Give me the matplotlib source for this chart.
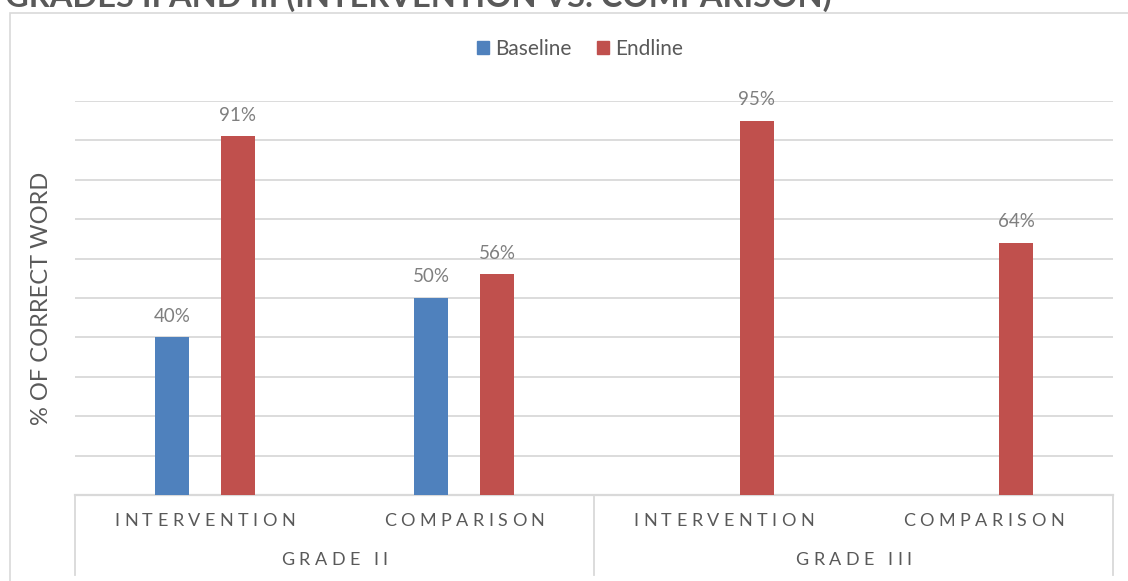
import matplotlib.pyplot as plt
from matplotlib.lines import Line2D
from matplotlib.patches import Rectangle
import numpy as np

plt.rcParams["font.family"] = ["Lato", "DejaVu Sans"]

# data
groups = ["GRADE II", "GRADE III"]
arms = ["INTERVENTION", "COMPARISON", "INTERVENTION", "COMPARISON"]
baseline = [40, 50, None, None]
endline = [91, 56, 95, 64]

BLUE = "#4F81BD"
RED = "#C0504D"
GRID = "#D9D9D9"
TEXT = "#595959"
LABEL = "#7F7F7F"

W, H = 1128, 581
fig = plt.figure(figsize=(W / 100, H / 100), dpi=100)
renderer = fig.canvas.get_renderer()

# chart border (bottom and right edges fall outside the canvas)
fig.patches.append(Rectangle((10 / W, -0.1), 1.2, 1.1 - 13 / H, transform=fig.transFigure,
                             fill=False, edgecolor=GRID, linewidth=1.2))

# title, clipped by the top edge
fig.text(5 / W, 1.0 - 7 / H, "GRADES II AND III (INTERVENTION VS. COMPARISON)",
         fontsize=23.5, fontweight="bold", color=TEXT, ha="left", va="baseline")

left, right = 75 / W, 1113 / W
bottom, top = (H - 495) / H, (H - 101) / H
ax = fig.add_axes([left, bottom, right - left, top - bottom])

x = np.arange(len(arms))
bw = 0.132
off = 0.127

for i in range(len(arms)):
    if baseline[i] is not None:
        b = ax.bar(x[i] - off, baseline[i], bw, color=BLUE, zorder=3)
        ax.bar_label(b, labels=[f"{baseline[i]}%"], padding=9, fontsize=13.5, color=LABEL)
    e = ax.bar(x[i] + off, endline[i], bw, color=RED, zorder=3)
    ax.bar_label(e, labels=[f"{endline[i]}%"], padding=9, fontsize=13.5, color=LABEL)

ax.set_xlim(-0.5, len(arms) - 0.5)
ax.set_ylim(0, 100)
ax.set_yticks(np.arange(10, 101, 10))
ax.yaxis.grid(True, color=GRID, linewidth=1.3, zorder=0)
ax.tick_params(left=False, bottom=False, labelleft=False, labelbottom=False)
for s in ["left", "right", "top"]:
    ax.spines[s].set_visible(False)
ax.spines["bottom"].set_color(GRID)
ax.spines["bottom"].set_linewidth(1.6)

fig.text(42 / W, 1 - 298 / H, "% OF CORRECT WORD", rotation=90, fontsize=17,
         color=TEXT, ha="center", va="center")


def tracked(xc, yc, s, size, track):
    """Draw s centred at figure pixel (xc, yc) with extra letter spacing."""
    def width(t):
        if not t:
            return 0.0
        tmp = fig.text(0, 0, t, fontsize=size)
        w = tmp.get_window_extent(renderer).width
        tmp.remove()
        return w

    total = width(s) + track * (len(s) - 1)
    x0 = xc - total / 2
    for k, ch in enumerate(s):
        if ch == " ":
            continue
        px = x0 + width(s[:k]) + track * k
        fig.text(px / W, 1 - yc / H, ch, fontsize=size, color=TEXT,
                 ha="left", va="center")


# two-level category axis
to_px = lambda v: ax.transData.transform((v, 0))[0]
for i, a in enumerate(arms):
    tracked(to_px(x[i]), 521, a, 13, 4.5)
for g, name in enumerate(groups):
    tracked(to_px(2 * g + 0.5), 560, name, 13, 4.5)

for xf in (left, (left + right) / 2, right):
    fig.add_artist(Line2D([xf, xf], [bottom, 6 / H], transform=fig.transFigure,
                          color=GRID, linewidth=1.3))

handles = [Rectangle((0, 0), 1, 1, color=BLUE), Rectangle((0, 0), 1, 1, color=RED)]
fig.legend(handles, ["Baseline", "Endline"], loc="center", bbox_to_anchor=(580 / W, 1 - 49 / H),
           ncol=2, frameon=False, fontsize=15, handlelength=0.6, handleheight=0.6,
           handletextpad=0.3, columnspacing=1.2, labelcolor=TEXT)

fig.savefig("out.png", dpi=100)
